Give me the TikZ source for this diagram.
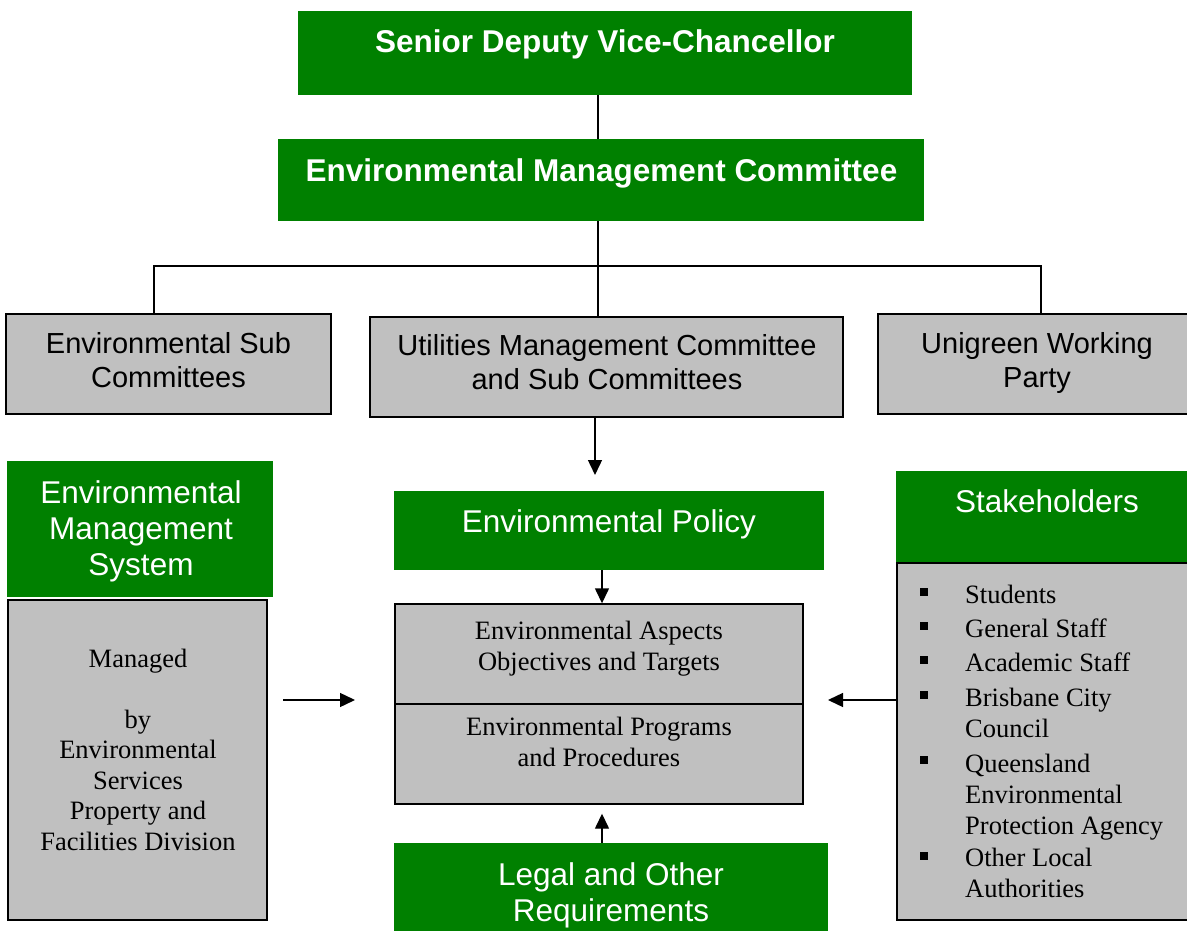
\documentclass[tikz,border=0pt]{standalone}
\usepackage{fontspec}
\setmainfont{Liberation Serif}
\setsansfont{Liberation Sans}
\usetikzlibrary{arrows.meta}

\definecolor{emsgreen}{RGB}{0,128,0}
\definecolor{boxgrey}{RGB}{192,192,192}

% text nodes sit on the baseline of their last line
\tikzset{
  greenbox/.style={fill=emsgreen, draw=none, inner sep=0pt},
  greybox/.style={fill=boxgrey, draw=black, line width=1.4pt, inner sep=0pt},
  headtext/.style={text=white, font=\sffamily\bfseries\fontsize{31.5}{36}\selectfont, anchor=base, inner sep=0pt},
  titletext/.style={text=white, align=center, font=\sffamily\fontsize{31.5}{36}\selectfont, anchor=base, inner sep=0pt},
  unittext/.style={align=center, font=\sffamily\fontsize{29}{34}\selectfont, anchor=base, inner sep=0pt},
  bodytext/.style={align=center, font=\fontsize{26.5}{30.5}\selectfont, anchor=base, inner sep=0pt},
  itemtext/.style={align=left, font=\fontsize{26.5}{31}\selectfont, anchor=base west, inner sep=0pt},
  bullet/.style={fill=black, minimum size=8pt, inner sep=0pt},
  link/.style={line width=1.4pt},
  arr/.style={link, -{Triangle[length=15pt,width=14pt]}}
}

\begin{document}
\begin{tikzpicture}[x=1pt, y=-1pt]
  \useasboundingbox (0,0) rectangle (1187,931);

  % top of the chain
  \node[greenbox, minimum width=614pt, minimum height=84pt] (sdvc) at (605,53) {};
  \node[headtext] (sdvc-t) at (605,53) {Senior Deputy Vice-Chancellor};
  \node[greenbox, minimum width=646pt, minimum height=82pt] (emc) at (601,180) {};
  \node[headtext] (emc-t) at (601.5,182) {Environmental Management Committee};

  % committees under the EMC
  \node[greybox, minimum width=325pt, minimum height=100pt] (envsub) at (168.5,364) {};
  \node[unittext] (envsub-t) at (168.5,387) {Environmental Sub\\Committees};
  \node[greybox, minimum width=473pt, minimum height=100pt] (util) at (606.5,367) {};
  \node[unittext] (util-t) at (607,389) {Utilities Management Committee\\and Sub Committees};
  \node[greybox, minimum width=312pt, minimum height=100pt] (unigreen) at (1034,364) {};
  \node[unittext] (unigreen-t) at (1037,387) {Unigreen Working\\Party};

  % policy and the core of the system
  \node[greenbox, minimum width=430pt, minimum height=79pt] (policy) at (609,530.5) {};
  \node[titletext] (policy-t) at (609,532) {Environmental Policy};
  \node[greybox, minimum width=408pt, minimum height=100pt] (aspects) at (599,654) {};
  \node[bodytext] (aspects-t) at (599,670) {Environmental Aspects\\Objectives and Targets};
  \node[greybox, minimum width=408pt, minimum height=100pt] (programs) at (599,754) {};
  \node[bodytext] (programs-t) at (599,766) {Environmental Programs\\and Procedures};
  \node[greenbox, minimum width=434pt, minimum height=100pt] (legal) at (611,893) {};
  \node[titletext] (legal-t) at (611,921) {Legal and Other\\Requirements};

  % left column
  \node[greenbox, minimum width=266pt, minimum height=136pt] (ems) at (140,529) {};
  \node[titletext] (ems-t) at (141,575) {Environmental\\Management\\System};
  \node[greybox, minimum width=259pt, minimum height=320pt] (managed) at (137.5,760) {};
  \node[bodytext] (managed-t) at (138,850) {Managed\\[30.5pt]by\\Environmental\\Services\\Property and\\Facilities Division};

  % right column
  \node[greenbox, minimum width=294pt, minimum height=92pt] (stake) at (1043,517) {};
  \node[titletext] (stake-t) at (1047,512) {Stakeholders};
  \node[greybox, minimum width=296pt, minimum height=357pt] (stakelist) at (1045,741.5) {};
  \node[bullet] (b1) at (924,592) {};
  \node[itemtext] (i1) at (965,603) {Students};
  \node[bullet] (b2) at (924,626) {};
  \node[itemtext] (i2) at (965,637) {General Staff};
  \node[bullet] (b3) at (924,660) {};
  \node[itemtext] (i3) at (965,671) {Academic Staff};
  \node[bullet] (b4) at (924,695) {};
  \node[itemtext] (i4) at (965,737) {Brisbane City\\Council};
  \node[bullet] (b5) at (924,760) {};
  \node[itemtext] (i5) at (965,834) {Queensland\\Environmental\\Protection Agency};
  \node[bullet] (b6) at (924,856) {};
  \node[itemtext] (i6) at (965,897) {Other Local\\Authorities};

  % joints and loose arrow ends
  \coordinate (trunk) at (598,266);
  \coordinate (busleft) at (154,266);
  \coordinate (busright) at (1041,266);
  \coordinate (utilend) at (595,475);
  \coordinate (pole) at (602,700);
  \coordinate (emsout) at (283,700);
  \coordinate (emsin) at (355,700);
  \coordinate (stakein) at (828,700);

  \begin{scope}[link]
    \draw (sdvc.south -| trunk) -- (emc.north -| trunk);
    \draw (emc.south -| trunk) -- (util.north -| trunk);
    \draw (envsub.north -| busleft) -- (busleft) -- (busright) -- (unigreen.north -| busright);
  \end{scope}
  \begin{scope}[arr]
    \draw (util.south -| utilend) -- (utilend);
    \draw (policy.south -| pole) -- (aspects.north -| pole);
    \draw (legal.north -| pole) -- ([yshift=-9pt]programs.south -| pole);
    \draw (emsout) -- (emsin);
    \draw (stakelist.west |- stakein) -- (stakein);
  \end{scope}
\end{tikzpicture}
\end{document}
